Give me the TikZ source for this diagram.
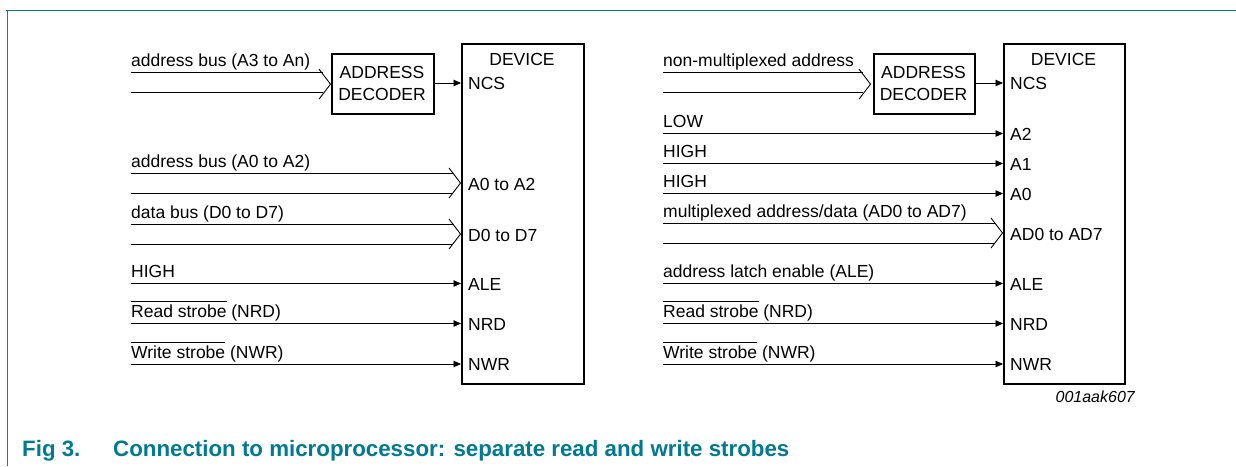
\documentclass[tikz,border=0pt]{standalone}
\usepackage{fontspec}
\setmainfont{Liberation Sans}
\usetikzlibrary{arrows.meta,calc}
\definecolor{nxpteal}{RGB}{0,121,146}
\definecolor{framegray}{RGB}{60,110,125}
\newlength\ovlw
\newcommand\ovlbar[1]{\settowidth\ovlw{#1}\makebox[0pt][l]{\rule[15.3pt]{\ovlw}{0.9pt}}#1}
\begin{document}
\begin{tikzpicture}[x=1pt,y=-1pt,
  txt/.style={font=\fontsize{17.5}{20}\selectfont, inner sep=0pt, anchor=base west},
  ctxt/.style={font=\fontsize{17.5}{20}\selectfont, inner sep=0pt, anchor=base},
  sig/.style={line width=0.9pt, -{Triangle[length=7.5pt,width=6.5pt]}},
  wire/.style={line width=0.9pt},
  devbox/.style={draw, line width=2.3pt, anchor=north west, inner sep=0pt},
  decbox/.style={draw, line width=2.3pt, anchor=north west, inner sep=0pt},
]
\useasboundingbox (0,0) rectangle (1236,466);
% frame
\draw[nxpteal, line width=1.6pt] (6,10.5) -- (1236,10.5);
\draw[framegray, line width=1pt] (7,10) -- (7,466);

% ================= LEFT =================
\node[devbox, minimum width=122pt, minimum height=340pt] (devL) at (461,43) {};
\node[decbox, minimum width=102pt, minimum height=60pt] (decL) at (331,53) {};
\node[ctxt] (devLt) at (522,65) {DEVICE};
\node[ctxt] (decLa) at (382,78) {ADDRESS};
\node[ctxt] (decLb) at (382,100) {DECODER};

% address bus A3..An into decoder
\coordinate (la1) at (131,72.5);
\coordinate (la2) at (131,92.5);
\node[txt] (la1t) at (131,66.5) {address bus (A3 to An)};
\draw[wire] (la1) -- ($(decL.west |- la1)+(-8,0)$);
\draw[wire] (la2) -- ($(decL.west |- la2)+(-8,0)$);
\draw[wire] ($(decL.west)+(-12,-15)$) -- ($(decL.west)+(-0.5,0)$) -- ($(decL.west)+(-12,15)$);

% NCS
\draw[sig] (decL.east |- 0,83) -- (devL.west |- 0,83);
\node[txt] (lncs) at (468,89) {NCS};

% address bus A0..A2
\coordinate (lb1) at (131,173);
\coordinate (lb2) at (131,193);
\node[txt] (lb1t) at (131,167) {address bus (A0 to A2)};
\draw[wire] (lb1) -- ($(devL.west |- lb1)+(-8,0)$);
\draw[wire] (lb2) -- ($(devL.west |- lb2)+(-8,0)$);
\draw[wire] ($(devL.west |- 0,183)+(-12,-15)$) -- ($(devL.west |- 0,183)+(-0.5,0)$) -- ($(devL.west |- 0,183)+(-12,15)$);
\node[txt] (la02) at (468,190) {A0 to A2};

% data bus D0..D7
\coordinate (lc1) at (131,224);
\coordinate (lc2) at (131,244);
\node[txt] (lc1t) at (131,218) {data bus (D0 to D7)};
\draw[wire] (lc1) -- ($(devL.west |- lc1)+(-8,0)$);
\draw[wire] (lc2) -- ($(devL.west |- lc2)+(-8,0)$);
\draw[wire] ($(devL.west |- 0,234)+(-12,-15)$) -- ($(devL.west |- 0,234)+(-0.5,0)$) -- ($(devL.west |- 0,234)+(-12,15)$);
\node[txt] (ld07) at (468,241) {D0 to D7};

% HIGH -> ALE
\coordinate (ld) at (131,283.5);
\node[txt] (ldt) at (131,277.5) {HIGH};
\draw[sig] (ld) -- (devL.west |- ld);
\node[txt] (lale) at (468,290) {ALE};

% Read strobe
\coordinate (le) at (131,323.5);
\node[txt] (let) at (131,317.5) {\ovlbar{Read strobe} (NRD)};
\draw[sig] (le) -- (devL.west |- le);
\node[txt] (lnrd) at (468,330) {NRD};

% Write strobe
\coordinate (lf) at (131,364);
\node[txt] (lft) at (131,358) {\ovlbar{Write strobe} (NWR)};
\draw[sig] (lf) -- (devL.west |- lf);
\node[txt] (lnwr) at (468,370.5) {NWR};

% ================= RIGHT =================
\node[devbox, minimum width=121pt, minimum height=340pt] (devR) at (1003,43) {};
\node[decbox, minimum width=101pt, minimum height=60pt] (decR) at (873,53) {};
\node[ctxt] (devRt) at (1063.5,65) {DEVICE};
\node[ctxt] (decRa) at (923.5,78) {ADDRESS};
\node[ctxt] (decRb) at (923.5,100) {DECODER};

% non-multiplexed address
\coordinate (ra1) at (663,72.5);
\coordinate (ra2) at (663,92.5);
\node[txt] (ra1t) at (663,66.5) {non-multiplexed address};
\draw[wire] (ra1) -- ($(decR.west |- ra1)+(-10,0)$);
\draw[wire] (ra2) -- ($(decR.west |- ra2)+(-10,0)$);
\draw[wire] ($(decR.west)+(-14,-15)$) -- ($(decR.west)+(-2.5,0)$) -- ($(decR.west)+(-14,15)$);

\draw[sig] (decR.east |- 0,83) -- (devR.west |- 0,83);
\node[txt] (rncs) at (1010,89) {NCS};

% LOW -> A2
\coordinate (rb) at (663,133.5);
\node[txt] (rbt) at (663,127.5) {LOW};
\draw[sig] (rb) -- (devR.west |- rb);
\node[txt] (ra2p) at (1010,140) {A2};

% HIGH -> A1
\coordinate (rc) at (663,163.5);
\node[txt] (rct) at (663,157.5) {HIGH};
\draw[sig] (rc) -- (devR.west |- rc);
\node[txt] (ra1p) at (1010,170) {A1};

% HIGH -> A0
\coordinate (rd) at (663,193.5);
\node[txt] (rdt) at (663,187.5) {HIGH};
\draw[sig] (rd) -- (devR.west |- rd);
\node[txt] (ra0p) at (1010,200) {A0};

% multiplexed AD bus
\coordinate (re1) at (663,223);
\coordinate (re2) at (663,243);
\node[txt] (re1t) at (663,217) {multiplexed address/data (AD0 to AD7)};
\draw[wire] (re1) -- ($(devR.west |- re1)+(-8,0)$);
\draw[wire] (re2) -- ($(devR.west |- re2)+(-8,0)$);
\draw[wire] ($(devR.west |- 0,233)+(-12,-15)$) -- ($(devR.west |- 0,233)+(-0.5,0)$) -- ($(devR.west |- 0,233)+(-12,15)$);
\node[txt] (rad) at (1010,240) {AD0 to AD7};

% ALE
\coordinate (rf) at (663,283.5);
\node[txt] (rft) at (663,277.5) {address latch enable (ALE)};
\draw[sig] (rf) -- (devR.west |- rf);
\node[txt] (rale) at (1010,290) {ALE};

% Read strobe
\coordinate (rg) at (663,323.5);
\node[txt] (rgt) at (663,317.5) {\ovlbar{Read strobe} (NRD)};
\draw[sig] (rg) -- (devR.west |- rg);
\node[txt] (rnrd) at (1010,330) {NRD};

% Write strobe
\coordinate (rh) at (663,364);
\node[txt] (rht) at (663,358) {\ovlbar{Write strobe} (NWR)};
\draw[sig] (rh) -- (devR.west |- rh);
\node[txt] (rnwr) at (1010,370.5) {NWR};

% figure id
\node[font=\fontsize{16}{18}\selectfont\itshape, inner sep=0pt, anchor=base east] (figid) at (1135,402) {001aak607};

% caption
\node[font=\fontsize{22.3}{26}\selectfont\bfseries, text=nxpteal, inner sep=0pt, anchor=base west] (capnum) at (22,456.5) {Fig 3.};
\node[font=\fontsize{22.3}{26}\selectfont\bfseries, text=nxpteal, inner sep=0pt, anchor=base west] (captxt) at (113,456.5) {Connection to microprocessor: separate read and write strobes};
\end{tikzpicture}
\end{document}
